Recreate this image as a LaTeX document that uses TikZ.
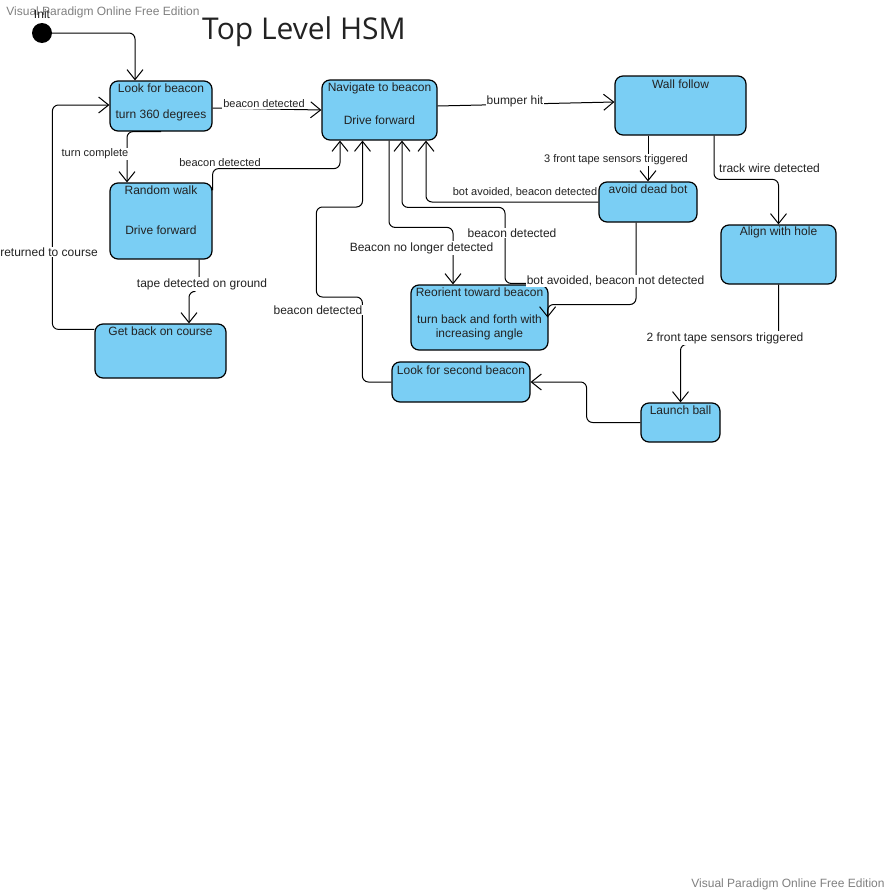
\documentclass[tikz,border=0pt]{standalone}
\usepackage{fontspec}
\setmainfont{Liberation Sans}
\newfontfamily\titlefont{Open Sans}
\usetikzlibrary{arrows.meta,calc}
\definecolor{statefill}{RGB}{122,206,244}
\definecolor{txt}{RGB}{34,34,34}
\definecolor{wm}{RGB}{128,128,128}
\tikzset{
 state/.style={draw=black, line width=1.2pt, fill=statefill, rounded corners=8pt, inner sep=0pt},
 stxt/.style={font=\fontsize{12}{14}\selectfont, text=txt, inner sep=0pt, align=center},
 lab/.style={font=\fontsize{12}{14}\selectfont, text=txt, fill=white, inner sep=1pt},
 slab/.style={lab, font=\fontsize{11}{13}\selectfont},
 conn/.style={draw=black, line width=1pt, rounded corners=6pt, -{Straight Barb[length=10pt,width=16pt,line width=1pt]}},
 wmark/.style={font=\fontsize{12}{14}\selectfont, text=wm, inner sep=0pt},
}
\begin{document}
\begin{tikzpicture}[x=1pt,y=-1pt]
\fill[white] (0,0) rectangle (890,894);
\useasboundingbox (0,0) rectangle (890,894);

% watermarks and title
\node[wmark] (wm1) at (103,12) {Visual Paradigm Online Free Edition};
\node[wmark] (wm2) at (788,884) {Visual Paradigm Online Free Edition};
\node[font=\titlefont\fontsize{30}{36}\selectfont, text=txt, inner sep=0pt] (title) at (304,32) {Top Level HSM};

% initial state
\node[circle, fill=black, minimum size=20pt, inner sep=0pt] (init) at (42,33) {};
\node[stxt] (initlab) at (42,14) {Init};

% states
\node[state, minimum width=102pt, minimum height=50pt] (look) at (161,106) {};
\node[stxt] (look1) at (161,88) {Look for beacon};
\node[stxt] (look2) at (161,115) {turn 360 degrees};

\node[state, minimum width=115pt, minimum height=60pt] (nav) at (379.5,110) {};
\node[stxt] (nav1) at (379.5,88) {Navigate to beacon};
\node[stxt] (nav2) at (379.5,120) {Drive forward};

\node[state, minimum width=131pt, minimum height=59pt] (wall) at (680.5,105.5) {};
\node[stxt] (wall1) at (680.5,84) {Wall follow};

\node[state, minimum width=102pt, minimum height=76pt] (rand) at (161,221) {};
\node[stxt] (rand1) at (161,190) {Random walk};
\node[stxt] (rand2) at (161,230) {Drive forward};

\node[state, minimum width=131pt, minimum height=54pt] (getback) at (160.5,351) {};
\node[stxt] (getback1) at (160.5,331) {Get back on course};

\node[state, minimum width=98pt, minimum height=40pt] (avoid) at (648,202) {};
\node[stxt] (avoid1) at (648,189) {avoid dead bot};

\node[state, minimum width=137pt, minimum height=65pt] (reor) at (479.5,317.5) {};
\node[stxt] (reor1) at (479.5,292) {Reorient toward beacon};
\node[stxt] (reor2) at (479.5,327) {turn back and forth with\\increasing angle};

\node[state, minimum width=115pt, minimum height=59pt] (align) at (778.5,254.5) {};
\node[stxt] (align1) at (778.5,232) {Align with hole};

\node[state, minimum width=79pt, minimum height=39pt] (launch) at (680.5,422.5) {};
\node[stxt] (launch1) at (680.5,410) {Launch ball};

\node[state, minimum width=138pt, minimum height=40pt] (second) at (461,382) {};
\node[stxt] (second1) at (461,370) {Look for second beacon};

% connectors
\draw[conn] (init.east) -| ($(look.north)+(-26,0)$);

\draw[conn] ($(look.east)+(0,2)$) -- (nav.west);
\node[slab] (l1) at (264,104) {beacon detected};

\draw[conn] ($(nav.east)+(0,-4)$) -- ($(wall.west)+(0,-3.5)$);
\node[lab] (l2) at (515,101) {bumper hit};

\draw[conn] (look.south) -| ($(rand.north)+(-34,0)$);
\node[slab] (l3) at (95,154) {turn complete};

\draw[conn] ($(rand.north east)+(0,8)$) |- ($(nav.south)+(-39.5,28)$) -- ($(nav.south)+(-39.5,0)$);
\node[slab] (l4) at (220,163) {beacon detected};

\draw[conn] ($(rand.south)+(38,0)$) |- ($(getback.north)+(28.5,-32)$) -- ($(getback.north)+(28.5,0)$);
\node[lab] (l5) at (202,284) {tape detected on ground};

\draw[conn] ($(getback.north west)+(0,6)$) -| ($(look.west)+(-57,-1)$) -- ($(look.west)+(0,-1)$);
\node[lab] (l6) at (49,252) {returned to course};

\draw[conn] ($(wall.south)+(-32.5,0)$) -- (avoid.north);
\node[slab] (l7) at (616,160) {3 front tape sensors triggered};

\draw[conn] (avoid.west) -| ($(nav.south)+(46.5,0)$);
\node[slab] (l8) at (525,192) {bot avoided, beacon detected};

\draw[conn] ($(nav.south)+(9.5,0)$) |- ($(reor.north)+(-26.5,-57)$) -- ($(reor.north)+(-26.5,0)$);
\node[lab] (l9) at (421.5,248) {Beacon no longer detected};

\draw[conn] ($(reor.north)+(47.5,-1)$) -| ($(reor.north)+(25.5,-77)$) -| ($(nav.south)+(22.5,0)$);
\node[lab] (l10) at (512,233) {beacon detected};

\draw[conn] ($(avoid.south)+(-12,0)$) |- ($(reor.east)+(-1,-13)$) -- ($(reor.east)+(-1,0)$);
\node[lab] (l11) at (615.5,281) {bot avoided, beacon not detected};

\draw[conn] ($(wall.south)+(33.5,0)$) |- ($(align.north)+(0,-45)$) -- (align.north);
\node[lab, anchor=west] (l12) at (718,168) {track wire detected};

\draw[conn] (align.south) |- ($(launch.north)+(0,-58)$) -- (launch.north);
\node[lab] (l13) at (725,338) {2 front tape sensors triggered};

\draw[conn] (launch.west) -| ($(second.east)+(56,0)$) -- (second.east);

\draw[conn] (second.west) -| ($(second.west)+(-29,-85)$) -| ($(second.west)+(-75,-175)$) -| ($(nav.south)+(-17,0)$);
\node[lab] (l14) at (318,310) {beacon detected};

\end{tikzpicture}
\end{document}
